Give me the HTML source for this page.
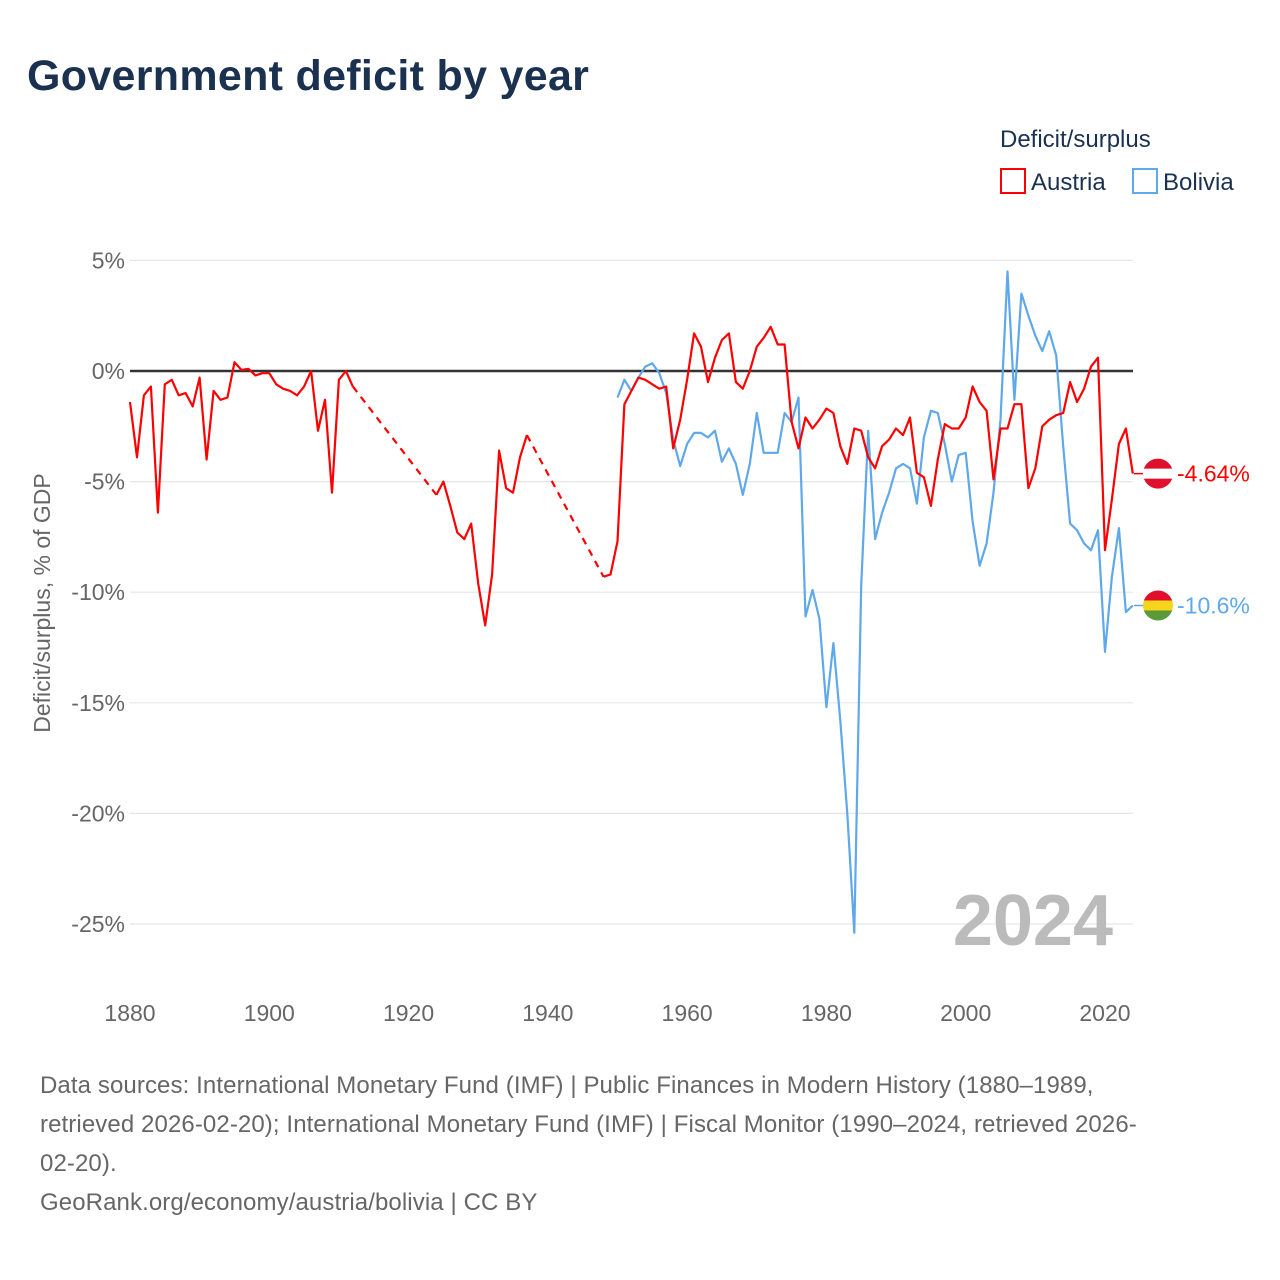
<!DOCTYPE html>
<html><head><meta charset="utf-8">
<style>
body{margin:0;width:1280px;height:1280px;background:#fff;font-family:"Liberation Sans",sans-serif;overflow:hidden}
h1{position:absolute;left:27px;top:52px;margin:0;font-size:43px;font-weight:bold;color:#1a3150;letter-spacing:0.3px}
.foot{position:absolute;left:40px;top:1066px;width:1240px;font-size:24px;line-height:39px;color:#666;white-space:nowrap;letter-spacing:0.1px}
</style></head><body>
<h1>Government deficit by year</h1>
<svg id="c" width="1280" height="1280" style="position:absolute;left:0;top:0"></svg>
<div class="foot">Data sources: International Monetary Fund (IMF) | Public Finances in Modern History (1880–1989,<br>retrieved 2026-02-20); International Monetary Fund (IMF) | Fiscal Monitor (1990–2024, retrieved 2026-<br>02-20).<br>GeoRank.org/economy/austria/bolivia | CC BY</div>
<script>
const austriaYears=[1880,1881,1882,1883,1884,1885,1886,1887,1888,1889,1890,1891,1892,1893,1894,1895,1896,1897,1898,1899,1900,1901,1902,1903,1904,1905,1906,1907,1908,1909,1910,1911,1912,1924,1925,1926,1927,1928,1929,1930,1931,1932,1933,1934,1935,1936,1937,1948,1949,1950,1951,1952,1953,1954,1955,1956,1957,1958,1959,1960,1961,1962,1963,1964,1965,1966,1967,1968,1969,1970,1971,1972,1973,1974,1975,1976,1977,1978,1979,1980,1981,1982,1983,1984,1985,1986,1987,1988,1989,1990,1991,1992,1993,1994,1995,1996,1997,1998,1999,2000,2001,2002,2003,2004,2005,2006,2007,2008,2009,2010,2011,2012,2013,2014,2015,2016,2017,2018,2019,2020,2021,2022,2023,2024];
const austriaValues=[-1.4,-3.9,-1.1,-0.7,-6.4,-0.6,-0.4,-1.1,-1.0,-1.6,-0.3,-4.0,-0.9,-1.3,-1.2,0.4,0.05,0.1,-0.2,-0.1,-0.1,-0.6,-0.8,-0.9,-1.1,-0.7,0,-2.7,-1.3,-5.5,-0.4,0,-0.7,-5.6,-5.0,-6.1,-7.3,-7.6,-6.9,-9.6,-11.5,-9.2,-3.6,-5.3,-5.5,-3.9,-2.9,-9.3,-9.2,-7.7,-1.5,-0.9,-0.3,-0.4,-0.6,-0.8,-0.7,-3.5,-2.2,-0.4,1.7,1.1,-0.5,0.6,1.4,1.7,-0.5,-0.8,0,1.1,1.5,2.0,1.2,1.2,-2.3,-3.5,-2.1,-2.6,-2.2,-1.7,-1.9,-3.4,-4.2,-2.6,-2.7,-3.9,-4.4,-3.4,-3.1,-2.6,-2.9,-2.1,-4.6,-4.8,-6.1,-4.0,-2.4,-2.6,-2.6,-2.1,-0.7,-1.4,-1.8,-4.9,-2.6,-2.6,-1.5,-1.5,-5.3,-4.4,-2.5,-2.2,-2.0,-1.9,-0.5,-1.4,-0.8,0.2,0.6,-8.1,-5.8,-3.3,-2.6,-4.64];
const boliviaYears=[1950,1951,1952,1953,1954,1955,1956,1957,1958,1959,1960,1961,1962,1963,1964,1965,1966,1967,1968,1969,1970,1971,1972,1973,1974,1975,1976,1977,1978,1979,1980,1981,1982,1983,1984,1985,1986,1987,1988,1989,1990,1991,1992,1993,1994,1995,1996,1997,1998,1999,2000,2001,2002,2003,2004,2005,2006,2007,2008,2009,2010,2011,2012,2013,2014,2015,2016,2017,2018,2019,2020,2021,2022,2023,2024];
const boliviaValues=[-1.2,-0.4,-0.9,-0.3,0.2,0.35,-0.1,-1.0,-3.1,-4.3,-3.3,-2.8,-2.8,-3.0,-2.7,-4.1,-3.5,-4.2,-5.6,-4.2,-1.9,-3.7,-3.7,-3.7,-1.9,-2.3,-1.2,-11.1,-9.9,-11.2,-15.2,-12.3,-15.8,-20.0,-25.4,-9.7,-2.7,-7.6,-6.4,-5.5,-4.4,-4.2,-4.4,-6.0,-3.0,-1.8,-1.9,-3.3,-5.0,-3.8,-3.7,-6.8,-8.8,-7.8,-5.5,-2.2,4.5,-1.3,3.5,2.5,1.6,0.9,1.8,0.7,-3.4,-6.9,-7.2,-7.8,-8.1,-7.2,-12.7,-9.3,-7.1,-10.9,-10.6];
const yTicks=[5,0,-5,-10,-15,-20,-25];
const xTicks=[1880,1900,1920,1940,1960,1980,2000,2020];

const NS="http://www.w3.org/2000/svg",svg=document.getElementById('c');
const X=y=>130+(y-1880)*6.964, Y=v=>371-v*22.12;
function el(t,a,p){const e=document.createElementNS(NS,t);for(const k in a)e.setAttribute(k,a[k]);(p||svg).appendChild(e);return e;}
yTicks.forEach(t=>{
  const g=el('line',{x1:130,x2:1133,y1:Y(t),y2:Y(t),stroke:t===0?'#333':'#e6e6e6','stroke-width':t===0?2.5:1.2});
  
  
  const l=el('text',{x:125,y:Y(t)+8,'text-anchor':'end','font-size':23,fill:'#666'});l.textContent=t+'%';
  
  
});
xTicks.forEach(t=>{
  const l=el('text',{x:X(t),y:1021,'text-anchor':'middle','font-size':23,fill:'#666'});l.textContent=t;
  
  
});
const yt=el('text',{transform:'translate(50,603) rotate(-90)','text-anchor':'middle','font-size':23,fill:'#666'});yt.textContent='Deficit/surplus, % of GDP';


const yr=el('text',{x:1113,y:945,'text-anchor':'end','font-size':72,'font-weight':'bold',fill:'#bbb'});yr.textContent='2024';


function series(ys,vs,color,name){
  let d='';
  for(let i=0;i<ys.length;i++){
    if(i>0&&ys[i]-ys[i-1]>1){
      const p=el('path',{d:'M'+X(ys[i-1])+','+Y(vs[i-1])+'L'+X(ys[i])+','+Y(vs[i]),stroke:color,'stroke-width':2.2,fill:'none','stroke-dasharray':'7,6'});
      
      
      d+='M';
    } else d+=(i===0?'M':'L');
    d+=X(ys[i]).toFixed(1)+','+Y(vs[i]).toFixed(1);
  }
  const p=el('path',{d:d,stroke:color,'stroke-width':2.2,fill:'none','stroke-linejoin':'round'});
  
  
}
series(boliviaYears,boliviaValues,'#5fa8ea','bolivia');
series(austriaYears,austriaValues,'#ff0000','austria');
function endLabel(v,cols,color,name){
  const cy=Y(v),cx=1158;
  el('line',{x1:1134,x2:cx,y1:cy,y2:cy,stroke:color,'stroke-width':1.5});
  const g=el('g',{});
  
  
  const cp=el('clipPath',{id:'cp'+name},g);el('circle',{cx:cx,cy:cy,r:15},cp);
  cols.forEach((c,i)=>el('rect',{x:cx-15,y:cy-15+i*10,width:30,height:10.5,fill:c,'clip-path':'url(#cp'+name+')'},g));
  const t=el('text',{x:1177,y:cy+8,'font-size':23,fill:color});t.textContent=v+'%';
  
  
}
endLabel(austriaValues[austriaValues.length-1],['#e0102c','#fff','#e0102c'],'#ff0000','austria');
endLabel(boliviaValues[boliviaValues.length-1],['#e0102c','#f7d51c','#5a9a3a'],'#5fa8ea','bolivia');
const lt=el('text',{x:1000,y:147,'font-size':24,fill:'#1a3150'});lt.textContent='Deficit/surplus';


[['Austria','#ff0000',1001],['Bolivia','#5fa8ea',1133]].forEach(([n,c,x])=>{
  const g=el('g',{});
  
  
  el('rect',{x:x,y:169,width:24,height:24,fill:'none',stroke:c,'stroke-width':2},g);
  const t=el('text',{x:x+30,y:190,'font-size':24,fill:'#1a3150'},g);t.textContent=n;
});
</script>
</body></html>
